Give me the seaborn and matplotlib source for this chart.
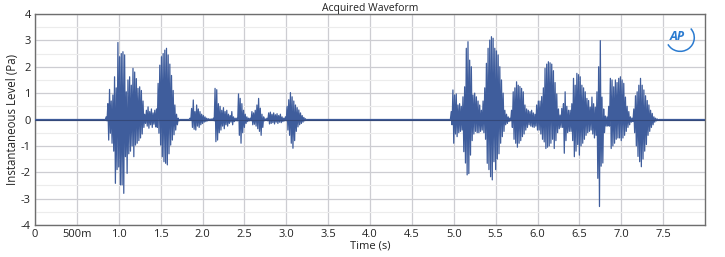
import numpy as np
import pandas as pd
import matplotlib
matplotlib.use("Agg")
import matplotlib.pyplot as plt
import seaborn as sns
from matplotlib.ticker import MultipleLocator
from matplotlib.patches import Arc

# ---------------- data (peak values) ----------------
SAMPLE_STEP = 0.02  # s between successive positive peaks

SEG_A_START = 0.85
SEG_A_UP = [0.10, 0.60, 1.14, 0.70, 0.93, 1.62, 1.20, 2.92, 2.38, 2.50,
            2.57, 2.45, 1.05, 1.50, 1.62, 1.30, 1.94, 1.80, 1.55, 1.18,
            1.24, 1.10, 0.70, 0.20, 0.35, 0.48, 0.30, 0.40, 0.25, 0.35,
            0.40, 1.37, 2.06, 2.38, 2.50, 2.63, 2.70, 2.45, 2.10, 1.67,
            1.10, 0.55, 0.20, 0.05]
SEG_A_DN = [0.05, 0.78, 0.52, 0.90, 1.20, 2.42, 1.90, 1.80, 2.48, 2.48,
            2.80, 1.41, 2.04, 1.30, 1.20, 1.00, 1.41, 0.97, 0.90, 0.80,
            0.70, 0.55, 0.30, 0.15, 0.25, 0.33, 0.20, 0.30, 0.18, 0.28,
            0.30, 0.52, 0.97, 1.41, 1.60, 1.66, 1.72, 1.30, 0.97, 0.78,
            0.58, 0.40, 0.20, 0.05]

SEG_B_START = 1.85
SEG_B_UP = [0.05, 0.42, 0.74, 0.30, 0.55, 0.40, 0.30, 0.20, 0.15, 0.10,
            0.05, 0.03, 0.02, 0.02, 0.05,
            1.18, 1.13, 0.60, 0.50, 0.35, 0.45, 0.30, 0.35, 0.20, 0.15,
            0.30, 0.10, 0.05, 0.05,
            0.97, 0.80, 0.60, 0.35, 0.20, 0.10, 0.05, 0.05,
            0.30, 0.25, 0.35, 0.55, 0.80, 0.43, 0.20, 0.10, 0.02, 0.05,
            0.25, 0.28, 0.20, 0.25, 0.18, 0.22, 0.15, 0.20, 0.10, 0.05, 0.10,
            0.50, 0.75, 1.02, 0.86, 0.70, 0.55, 0.45, 0.36, 0.25, 0.15,
            0.08, 0.03]
SEG_B_DN = [0.03, 0.30, 0.37, 0.40, 0.25, 0.30, 0.20, 0.15, 0.10, 0.08,
            0.05, 0.03, 0.02, 0.02, 0.05,
            0.84, 0.78, 0.50, 0.40, 0.25, 0.35, 0.20, 0.25, 0.15, 0.10,
            0.20, 0.08, 0.05, 0.05,
            0.60, 0.90, 0.50, 0.30, 0.15, 0.08, 0.05, 0.05,
            0.20, 0.18, 0.25, 0.35, 0.45, 0.60, 0.30, 0.05, 0.02, 0.05,
            0.17, 0.15, 0.12, 0.17, 0.10, 0.15, 0.10, 0.12, 0.08, 0.05, 0.05,
            0.40, 0.60, 0.90, 1.09, 0.80, 0.45, 0.28, 0.20, 0.15, 0.10,
            0.05, 0.02]

SEG_C_START = 4.97
SEG_C_UP = [0.30, 1.12, 0.93, 0.97, 0.55, 0.60, 0.50, 0.86, 1.24, 2.70,
            2.95, 2.25, 2.00, 0.93, 1.00, 0.86, 0.70, 0.55, 0.35, 0.70,
            1.20, 2.13, 2.70, 3.01, 3.14, 3.08, 2.70, 2.60, 2.45, 2.00,
            1.50, 1.00, 0.35, 0.20, 0.10, 0.05, 0.35, 1.05, 1.20, 1.43,
            1.30, 1.25, 1.18, 1.05, 0.55, 0.40, 0.35, 0.30, 0.35, 0.25,
            0.20, 0.55, 0.70, 0.70, 0.87, 1.20, 1.94, 2.10, 2.19, 2.15,
            2.10, 1.85, 1.40, 0.97, 0.40, 0.17, 0.42, 0.60, 1.05, 0.50,
            0.35, 0.35, 0.60, 1.56, 1.30, 1.75, 1.70, 1.62, 1.30, 1.20,
            1.05, 0.80, 0.72, 0.47, 0.85, 0.60, 0.47, 1.05, 2.00, 2.99,
            0.85, 0.40, 0.13, 0.10, 0.50, 1.56, 1.50, 1.24, 1.50, 1.40,
            1.56, 1.62, 1.50, 1.37, 0.85, 0.50, 0.30, 0.10, 0.05, 0.40,
            0.90, 1.05, 1.30, 1.56, 1.30, 1.12, 0.90, 0.72, 0.55, 0.35,
            0.23, 0.10, 0.05, 0.02]
SEG_C_DN = [0.20, 0.90, 0.55, 0.65, 0.50, 0.45, 0.40, 1.22, 1.65, 2.10,
            2.05, 1.35, 0.80, 0.55, 0.45, 0.50, 0.50, 0.45, 0.40, 0.50,
            0.75, 1.66, 1.90, 2.17, 2.29, 1.60, 1.90, 1.50, 1.30, 0.90,
            0.65, 0.45, 0.20, 0.15, 0.08, 0.05, 0.30, 0.75, 0.90, 1.05,
            0.90, 0.80, 0.65, 0.55, 0.40, 0.30, 0.20, 0.25, 0.28, 0.30,
            0.25, 0.40, 0.40, 0.55, 0.75, 0.85, 1.10, 1.05, 1.00, 0.90,
            0.75, 1.10, 0.80, 0.50, 0.35, 0.30, 0.30, 1.28, 0.80, 0.50,
            0.45, 0.45, 0.80, 1.41, 1.20, 0.95, 1.35, 1.00, 0.90, 0.75,
            0.60, 0.50, 0.45, 0.40, 0.55, 0.70, 0.60, 2.23, 3.30, 1.77,
            1.65, 0.50, 0.25, 0.25, 0.25, 1.10, 1.00, 0.90, 0.75, 0.70,
            0.70, 0.80, 0.70, 0.60, 0.45, 0.30, 0.20, 0.10, 0.08, 0.50,
            1.00, 1.40, 1.60, 1.79, 1.50, 1.20, 0.95, 0.60, 0.45, 0.30,
            0.20, 0.10, 0.05, 0.02]

X_TICKS = [0, 0.5, 1.0, 1.5, 2.0, 2.5, 3.0, 3.5, 4.0, 4.5, 5.0, 5.5, 6.0, 6.5, 7.0, 7.5]
X_TICK_LABELS = ["0", "500m", "1.0", "1.5", "2.0", "2.5", "3.0", "3.5", "4.0",
                 "4.5", "5.0", "5.5", "6.0", "6.5", "7.0", "7.5"]
Y_TICKS = [-4, -3, -2, -1, 0, 1, 2, 3, 4]
T_END = 8.0

# ---------------- build the waveform series ----------------
def segment(start, up, dn):
    assert len(up) == len(dn), (len(up), len(dn))
    # silence (0) one sample before and after each burst
    t, v = [start - SAMPLE_STEP / 2], [0.0]
    for i, (u, d) in enumerate(zip(up, dn)):
        t.append(start + i * SAMPLE_STEP)
        v.append(u)
        t.append(start + (i + 0.5) * SAMPLE_STEP)
        v.append(-d)
    t.append(start + len(up) * SAMPLE_STEP)
    v.append(0.0)
    return t, v

times, vals = [0.0], [0.0]
for s, u, d in [(SEG_A_START, SEG_A_UP, SEG_A_DN),
                (SEG_B_START, SEG_B_UP, SEG_B_DN),
                (SEG_C_START, SEG_C_UP, SEG_C_DN)]:
    t, v = segment(s, u, d)
    times += t
    vals += v
times.append(T_END)
vals.append(0.0)
df = pd.DataFrame({"Time": times, "Level": vals})

# ---------------- plot ----------------
sns.set_theme(style="white")
plt.rcParams["font.family"] = ["Open Sans", "DejaVu Sans"]

fig = plt.figure(figsize=(7.25, 2.57), dpi=100)
ax = fig.add_axes([35 / 725, 1 - 225 / 257, 670 / 725, 211 / 257])

line_col = "#3F5D9C"
sns.lineplot(data=df, x="Time", y="Level", ax=ax, estimator=None, sort=False,
             color=line_col, linewidth=0.9, zorder=3)
ax.axhline(0, color="#34497A", linewidth=0.8, zorder=4)

ax.set_xlim(0, T_END)
ax.set_ylim(-4, 4)
ax.set_xticks(X_TICKS)
ax.set_xticklabels(X_TICK_LABELS)
ax.set_yticks(Y_TICKS)
ax.set_yticklabels([str(v) for v in Y_TICKS])
ax.yaxis.set_minor_locator(MultipleLocator(0.5))

ax.grid(which="major", axis="both", color="#CDCDD2", linewidth=0.9, zorder=0)
ax.grid(which="minor", axis="y", color="#ECECEC", linewidth=0.8, zorder=0)
ax.set_axisbelow(True)

ax.tick_params(axis="both", which="both", length=0, labelsize=8,
               colors="#222222", pad=3)
for sp in ax.spines.values():
    sp.set_color("#6E6E6E")
    sp.set_linewidth(1.0)

ax.set_xlabel("Time (s)", fontsize=8, color="#222222", labelpad=0)
ax.set_ylabel("Instantaneous Level (Pa)", fontsize=8.3, color="#222222", labelpad=1)
ax.set_title("Acquired Waveform", fontsize=7.5, color="#222222", pad=2)

ax.text(0.959, 0.895, "AP", transform=ax.transAxes, ha="center", va="center",
        fontsize=9, fontstyle="italic", fontweight="bold", color="#2B7BD0")
ax.add_patch(Arc((0.963, 0.888), 0.042, 0.13, angle=0, theta1=-120, theta2=70,
                 transform=ax.transAxes, color="#2B7BD0", linewidth=1.1))

fig.savefig("out.png", dpi=100, facecolor="white")
